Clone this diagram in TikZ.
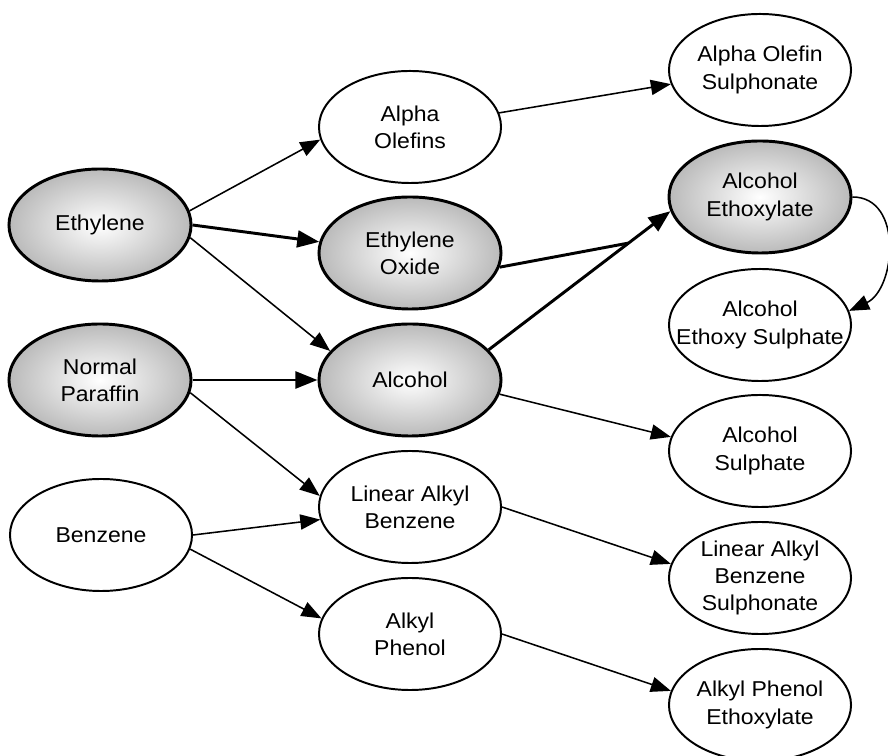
\documentclass[tikz,border=0pt]{standalone}
\usepackage{fontspec}
\setmainfont{Liberation Sans}[FakeStretch=1.07]
\usepackage{tikz}
\usetikzlibrary{shapes.geometric,arrows.meta}
\pgfdeclarelayer{background}
\pgfsetlayers{background,main}
\tikzset{
  oval/.style={ellipse,draw,line width=1.4pt,minimum width=4.55cm,minimum height=2.8cm,
    inner xsep=-2cm,inner ysep=-1.5cm,align=center,font=\fontsize{15.3}{19.4}\selectfont},
  grayoval/.style={oval,line width=2.1pt,inner color=white,outer color=black!27},
  flow/.style={line width=1.1pt,-{Triangle[length=0.5cm,width=0.38cm]}},
  mainflow/.style={line width=2.1pt,-{Triangle[length=0.55cm,width=0.42cm]}}
}

\begin{document}
\begin{tikzpicture}[x=0.025cm,y=0.025cm]
\useasboundingbox (0,0) rectangle (888,756);
% raw materials
\node[grayoval] (eth) at (100,531) {Ethylene};
\node[grayoval] (np) at (100,376) {Normal\\Paraffin};
\node[oval] (benz) at (101,221) {Benzene};
% intermediates
\node[oval] (ao) at (410,629) {Alpha\\Olefins};
\node[grayoval] (eo) at (410,503) {Ethylene\\Oxide};
\node[grayoval] (alc) at (410,376) {Alcohol};
\node[oval] (lab) at (410,249) {Linear Alkyl\\Benzene};
\node[oval] (ap) at (410,122) {Alkyl\\Phenol};
% surfactants
\node[oval] (aos) at (760,686) {Alpha Olefin\\Sulphonate};
\node[grayoval] (ae) at (760,559) {Alcohol\\Ethoxylate};
\node[oval] (aes) at (760,431) {Alcohol\\Ethoxy Sulphate};
\node[oval] (alcs) at (760,305) {Alcohol\\Sulphate};
\node[oval] (labs) at (760,178) {Linear Alkyl\\Benzene\\Sulphonate};
\node[oval] (ape) at (760,51) {Alkyl Phenol\\Ethoxylate};
\begin{pgfonlayer}{background}
\draw[flow] (eth.9) -- (ao.188);
\draw[mainflow] (eth.0) -- (eo.173);
\draw[flow] (eth.-8) -- (alc.160);
\draw[mainflow] (np.east) -- (alc.west);
\draw[flow] (np.-8) -- (lab.173);
\draw[flow] (benz.east) -- (lab.188);
\draw[flow] (benz.-9) -- (ap.170);
\draw[flow] (ao.9) -- (aos.189);
\draw[mainflow] (alc.21) -- coordinate[pos=0.77] (jn) (ae.189);
\draw[line width=2.1pt] (eo.-9) -- (jn); %joins the alcohol line
\draw[flow] (alc.-9) -- (alcs.171);
\draw[flow] (lab.east) -- (labs.171);
\draw[flow] (ap.east) -- (ape.171);
\draw[flow] (ae.east) to[out=0,in=25,looseness=1.15] (aes.9);
\end{pgfonlayer}
\end{tikzpicture}
\end{document}
